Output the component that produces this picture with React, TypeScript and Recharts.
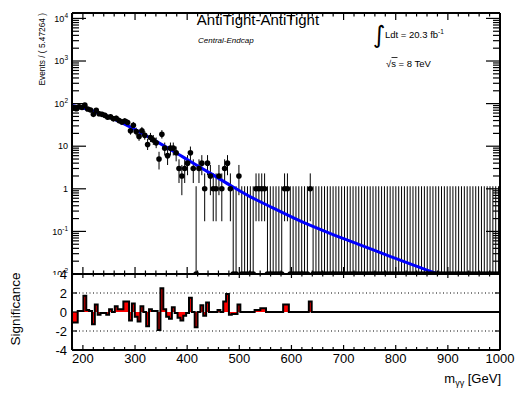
import React from "react";
import {
  ComposedChart,
  Scatter,
  Line,
  Area,
  XAxis,
  YAxis,
  ErrorBar,
  ReferenceLine,
} from "recharts";

// binning: 150 bins of 5.47264 GeV ending at 1000
const massMax = 1000;
const binWidth = 5.47264;
const nBins = 150;
const massMin = massMax - nBins * binWidth;

// events per bin (bins 84..149 are empty)
const counts = [
  79, 76, 84, 81, 92, 75, 71, 56, 70, 58,
  56, 53, 48, 49, 44, 45, 40, 37, 39, 36,
  23, 31, 22, 17, 23, 18, 11, 16, 14, 12,
  5, 19, 9, 6, 9, 9, 7, 3, 2, 3,
  4, 7, 3, 0, 3, 4, 1, 4, 2, 1,
  1, 2, 1, 3, 4, 1, 0, 0, 2, 0,
  0, 0, 0, 0, 1, 1, 1, 1, 0, 0,
  0, 0, 0, 0, 1, 1, 0, 0, 0, 0,
  0, 0, 0, 1, 0, 0, 0, 0, 0, 0,
  0, 0, 0, 0, 0, 0, 0, 0, 0, 0,
  0, 0, 0, 0, 0, 0, 0, 0, 0, 0,
  0, 0, 0, 0, 0, 0, 0, 0, 0, 0,
  0, 0, 0, 0, 0, 0, 0, 0, 0, 0,
  0, 0, 0, 0, 0, 0, 0, 0, 0, 0,
  0, 0, 0, 0, 0, 0, 0, 0, 0, 0,
];

// significance per bin (lower pad)
const significance = [
  -1.1, -1.1, 0.1, 0.1, 1.7, 0.2, 0.1, -1.3, 0.8, -0.3,
  -0.1, -0.1, -0.3, 0.3, 0.0, 0.6, 0.3, 0.3, 1.1, 1.1,
  -0.9, 0.9, -0.5, -1.0, 0.6, 0.0, -1.5, 0.3, 0.1, 0.1,
  -1.9, 2.5, 0.3, -0.5, -0.7, 0.5, -0.1, -0.6, -0.9, -0.4,
  -0.1, 1.5, 0.0, -1.6, 0.0, 0.7, -0.4, 1.0, 0.0, 0.0,
  0.0, 0.2, 0.0, 1.1, 1.9, -0.3, -0.2, -0.2, 0.8, 0.0,
  0, 0, 0, 0, 0.2, 0.2, 0.4, 0.4, 0, 0,
  0, 0, 0, 0, 0.8, 0.8, 0, 0, 0, 0,
  0, 0, 0, 1.1, 0, 0, 0, 0, 0, 0,
  0, 0, 0, 0, 0, 0, 0, 0, 0, 0,
  0, 0, 0, 0, 0, 0, 0, 0, 0, 0,
  0, 0, 0, 0, 0, 0, 0, 0, 0, 0,
  0, 0, 0, 0, 0, 0, 0, 0, 0, 0,
  0, 0, 0, 0, 0, 0, 0, 0, 0, 0,
  0, 0, 0, 0, 0, 0, 0, 0, 0, 0,
];

// fitted background curve, sampled along the blue line
const fitMass = [179.1, 213.6, 252.0, 290.3, 328.7, 367.1, 405.4, 443.8, 482.1, 520.5, 558.8, 616.4, 673.9, 731.4, 789.0, 856.1, 923.2, 1000];
const fitValue = [90.3, 70.9, 47.3, 28.4, 15.7, 8.47, 4.44, 2.33, 1.22, 0.657, 0.384, 0.176, 0.0898, 0.0484, 0.026, 0.0129, 0.0068, 0.0032];

const yMin = 0.01;
const yMax = 13400;
const sigTicks = [-4, -2, 0, 2, 4];

// 68% Poisson intervals for small counts
const poissonLow = [0, 0.173, 0.708, 1.367, 2.086, 2.84, 3.62, 4.419, 5.232, 6.057, 6.891];
const poissonHigh = [1.148, 2.299, 3.633, 4.918, 6.172, 7.403, 8.617, 9.817, 11.004, 12.182, 13.352];

function poisson(n: number): [number, number] {
  if (n <= 10) return [poissonLow[n], poissonHigh[n]];
  const d = Math.sqrt(n + 0.25);
  return [n + 0.5 - d, n + 0.5 + d];
}

const points = counts.map((n, i) => {
  const [lo, hi] = poisson(n);
  const v = Math.max(n, yMin);
  return { m: massMin + binWidth * (i + 0.5), v, err: [v - Math.max(lo, yMin), hi - v] };
});
const fitData = fitMass.map((m, i) => ({ m, v: fitValue[i] }));
const sigData = Array.from({ length: nBins + 1 }, (_, i) => ({
  m: massMin + binWidth * i,
  s: significance[Math.min(i, nBins - 1)],
}));

const xTicks: number[] = [];
for (let t = 180; t <= 1000; t += 20) xTicks.push(t);
const logTicks: number[] = [];
for (let e = -2; e <= 4; e++) {
  for (let k = 1; k <= 9; k++) {
    const t = k * Math.pow(10, e);
    if (t >= yMin * 0.999 && t <= yMax) logTicks.push(t);
  }
}

const FONT = "'Liberation Sans', Arial, Helvetica, sans-serif";
const frame = { stroke: "#000", strokeWidth: 2 };

const isMajorX = (v: number) => Math.abs(v % 100) < 1e-6;
const isDecade = (v: number) => {
  const l = Math.log10(v);
  return Math.abs(l - Math.round(l)) < 1e-6;
};

function xTick(dir: number, major: number, minor: number, labels: boolean) {
  return (p: any) => {
    const v = p.payload.value;
    const mj = isMajorX(v);
    return (
      <g>
        <line x1={p.x} x2={p.x} y1={p.y} y2={p.y + dir * (mj ? major : minor)} stroke="#000" strokeWidth={1.2} />
        {labels && mj && (
          <text x={p.x} y={p.y + 12.5} textAnchor="middle" fontSize={13} fontFamily={FONT} fill="#000">
            {v}
          </text>
        )}
      </g>
    );
  };
}

function logTick(dir: number, labels: boolean) {
  return (p: any) => {
    const v = p.payload.value;
    const mj = isDecade(v);
    const e = Math.round(Math.log10(v));
    return (
      <g>
        <line x1={p.x} x2={p.x + dir * (mj ? 14 : 7)} y1={p.y} y2={p.y} stroke="#000" strokeWidth={1.2} />
        {labels && mj && (
          <text x={p.x - 4} y={p.y} dy="0.35em" textAnchor="end" fontSize={9} fontFamily={FONT} fill="#000">
            {e === 0 ? "1" : "10"}
            {e !== 0 && e !== 1 && (
              <tspan dy={-4} fontSize={6.5}>
                {e}
              </tspan>
            )}
          </text>
        )}
      </g>
    );
  };
}

function sigTick(dir: number, labels: boolean) {
  return (p: any) => {
    const v = p.payload.value;
    return (
      <g>
        <line x1={p.x} x2={p.x + dir * 5} y1={p.y} y2={p.y} stroke="#000" strokeWidth={1.2} />
        {labels && (
          <text x={p.x - 5} y={p.y} dy="0.35em" textAnchor="end" fontSize={13} fontFamily={FONT} fill="#000">
            {v}
          </text>
        )}
      </g>
    );
  };
}

// axes are 1px thick so that they render; margins absorb that pixel
const axisCommon = { tickSize: 0, tickMargin: 0, tickLine: false, axisLine: frame, interval: 0 as const, allowDataOverflow: true };

function TopPad() {
  return (
    <ComposedChart width={515} height={275} margin={{ top: 12, right: 14, bottom: 0, left: 71 }}>
      <XAxis xAxisId="b" type="number" dataKey="m" domain={[massMin, massMax]} ticks={xTicks} height={1} {...axisCommon} tick={xTick(-1, 7, 3.5, false)} />
      <XAxis xAxisId="t" orientation="top" type="number" dataKey="m" domain={[massMin, massMax]} ticks={xTicks} height={1} {...axisCommon} tick={xTick(1, 7, 3.5, false)} />
      <YAxis yAxisId="l" type="number" dataKey="v" scale="log" domain={[yMin, yMax]} ticks={logTicks} width={1} {...axisCommon} tick={logTick(1, true)} />
      <YAxis yAxisId="r" orientation="right" type="number" dataKey="v" scale="log" domain={[yMin, yMax]} ticks={logTicks} width={1} {...axisCommon} tick={logTick(-1, false)} />
      <Scatter
        xAxisId="b"
        yAxisId="l"
        data={points}
        dataKey="v"
        isAnimationActive={false}
        shape={(p: any) => <circle cx={p.cx} cy={p.cy} r={2.8} fill="#000" />}
      >
        <ErrorBar dataKey="err" direction="y" width={0} stroke="#000" strokeWidth={1} isAnimationActive={false} />
      </Scatter>
      <Line
        xAxisId="t"
        yAxisId="r"
        data={fitData}
        dataKey="v"
        type="monotone"
        stroke="#0000ff"
        strokeWidth={3}
        dot={false}
        isAnimationActive={false}
      />
    </ComposedChart>
  );
}

function BottomPad() {
  return (
    <ComposedChart width={515} height={137} margin={{ top: 13, right: 14, bottom: 46, left: 71 }}>
      <XAxis xAxisId="b" type="number" dataKey="m" domain={[massMin, massMax]} ticks={xTicks} height={1} {...axisCommon} tick={xTick(-1, 5, 3, true)} />
      <XAxis xAxisId="t" orientation="top" type="number" dataKey="m" domain={[massMin, massMax]} ticks={xTicks} height={1} {...axisCommon} tick={xTick(1, 4, 2.5, false)} />
      <YAxis yAxisId="l" type="number" dataKey="s" domain={[-4, 4]} ticks={sigTicks} width={1} {...axisCommon} tick={sigTick(1, true)} />
      <YAxis yAxisId="r" orientation="right" type="number" dataKey="s" domain={[-4, 4]} ticks={sigTicks} width={1} {...axisCommon} tick={sigTick(-1, false)} />
      <ReferenceLine xAxisId="b" yAxisId="l" y={2} stroke="#000" strokeWidth={1} strokeDasharray="1 2.5" />
      <ReferenceLine xAxisId="b" yAxisId="l" y={-2} stroke="#000" strokeWidth={1} strokeDasharray="1 2.5" />
      <Area
        xAxisId="b"
        yAxisId="l"
        data={sigData}
        dataKey="s"
        type="stepAfter"
        baseValue={0}
        fill="#ff0000"
        fillOpacity={1}
        stroke="none"
        isAnimationActive={false}
      />
      <Line
        xAxisId="t"
        yAxisId="r"
        data={sigData}
        dataKey="s"
        type="stepAfter"
        stroke="#000"
        strokeWidth={2}
        dot={false}
        isAnimationActive={false}
      />
    </ComposedChart>
  );
}

function Labels() {
  return (
    <svg width={515} height={397} style={{ position: "absolute", left: 0, top: 0, pointerEvents: "none" }} fontFamily={FONT}>
      <text x={258} y={24.5} textAnchor="middle" fontSize={15} fill="#000">
        AntiTight-AntiTight
      </text>
      <text x={198} y={43} fontSize={8} fontStyle="italic" fill="#000">
        Central-Endcap
      </text>
      <text x={373} y={43} fontSize={24} fontFamily="'DejaVu Sans', sans-serif" fill="#000">
        ∫
      </text>
      <text x={385} y={37.5} fontSize={9.5} fill="#000">
        Ldt = 20.3 fb
        <tspan dy={-4} fontSize={6.5}>
          -1
        </tspan>
      </text>
      <text x={386} y={66.5} fontSize={9.5} fill="#000">
        √s = 8 TeV
      </text>
      <line x1={391.5} x2={397.5} y1={57.5} y2={57.5} stroke="#000" strokeWidth={0.8} />
      <text transform="translate(45,13) rotate(-90)" textAnchor="end" fontSize={8.3} fill="#000">
        Events / ( 5.47264 )
      </text>
      <text transform="translate(20,309) rotate(-90)" textAnchor="middle" fontSize={13.5} fill="#000">
        Significance
      </text>
      <text x={501} y={383} textAnchor="end" fontSize={13} fill="#000">
        m
        <tspan dy={3} fontSize={9}>
          γγ
        </tspan>
        <tspan dy={-3} fontSize={13}>
          {" [GeV]"}
        </tspan>
      </text>
    </svg>
  );
}

export default function App() {
  return (
    <div style={{ position: "absolute", left: 0, top: 0, width: 515, height: 397, background: "#fff" }}>
      <div style={{ position: "absolute", left: 0, top: 0 }}>
        <TopPad />
      </div>
      <div style={{ position: "absolute", left: 0, top: 260 }}>
        <BottomPad />
      </div>
      <Labels />
    </div>
  );
}
